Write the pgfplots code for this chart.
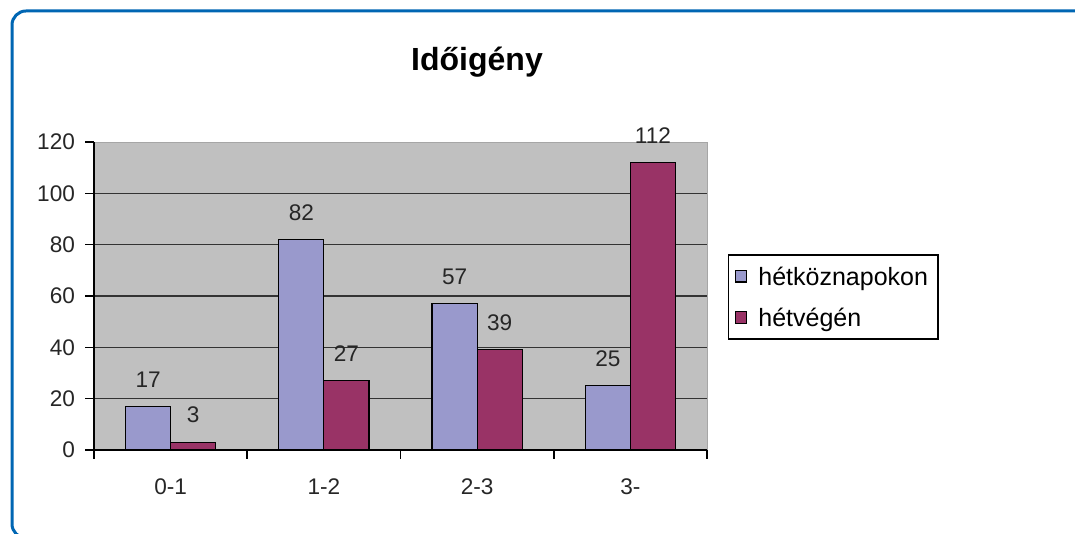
\documentclass[border=0pt]{standalone}
\usepackage{fontspec}
\setmainfont{Liberation Sans}
\usepackage{pgfplots}
\pgfplotsset{compat=1.18}
\definecolor{frameblue}{RGB}{0,102,179}
\definecolor{serA}{RGB}{153,153,204}
\definecolor{serB}{RGB}{153,51,102}
\definecolor{plotgray}{RGB}{192,192,192}
\newcommand{\lblfont}{\fontsize{11.3}{13}\selectfont}
\newcommand{\legfont}{\fontsize{12.5}{14}\selectfont}
\begin{document}
\begin{tikzpicture}
\path[use as bounding box] (0,0) rectangle (537.5pt,267pt);
\begin{scope}
\clip (0,0) rectangle (537.5pt,267pt);
\draw[frameblue, line width=1.5pt, rounded corners=7pt] (6pt,261.5pt) rectangle (570pt,-2pt);
\end{scope}
\node[font=\fontsize{16}{19}\selectfont\bfseries] at (238.5pt,236pt) {Időigény};
\begin{axis}[
  at={(47pt,42pt)}, anchor=south west,
  scale only axis, width=306.5pt, height=154pt,
  xmin=-0.5, xmax=3.5, ymin=0, ymax=120,
  clip=false,
  axis lines=left,
  axis line style={-, black, line width=0.8pt},
  axis background/.style={fill=plotgray, draw=black!35},
  ymajorgrids, grid style={black!80, line width=0.8pt},
  ytick={0,20,...,100},
  extra y ticks={120}, extra y tick style={grid=none},
  xtick={-0.5,0.5,1.5,2.5,3.5}, xticklabels={},
  extra x ticks={0,1,2,3},
  extra x tick labels={0-1,1-2,2-3,3-},
  extra x tick style={major tick length=0pt},
  tick align=outside, major tick length=4.5pt,
  tick style={black, line width=0.8pt},
  every tick label/.append style={font=\lblfont, text=black!85},
  /pgf/number format/assume math mode=true,
  yticklabel style={xshift=-1.5pt},
  xticklabel style={yshift=-11pt},
  legend style={at={(1.034,0.636)}, anchor=north west, draw=black, line width=0.8pt,
    font=\legfont, row sep=7.5pt, inner xsep=3pt, inner ysep=4pt,
    nodes={text depth=0pt},
    /tikz/every odd column/.append style={column sep=3.5pt}},
  legend cell align=left,
]
\addplot[ybar, bar width=0.294, bar shift=-0.147, fill=serA, draw=black, line width=0.6pt,
  nodes near coords, nodes near coords style={font=\lblfont, text=black!85, anchor=south, yshift=6pt, xshift=-11.26pt},
  legend image code/.code={\draw[fill=serA, draw=black, line width=0.6pt] (0pt,-2.9pt) rectangle (5.8pt,2.9pt);}]
  coordinates {(0,17) (1,82) (2,57) (3,25)};
\addlegendentry{hétköznapokon}
\addplot[ybar, bar width=0.294, bar shift=0.147, fill=serB, draw=black, line width=0.6pt,
  nodes near coords, nodes near coords style={font=\lblfont, text=black!85, anchor=south, yshift=6pt, xshift=11.26pt},
  legend image code/.code={\draw[fill=serB, draw=black, line width=0.6pt] (0pt,-2.9pt) rectangle (5.8pt,2.9pt);}]
  coordinates {(0,3) (1,27) (2,39) (3,112)};
\addlegendentry{hétvégén}
\end{axis}
\end{tikzpicture}
\end{document}
